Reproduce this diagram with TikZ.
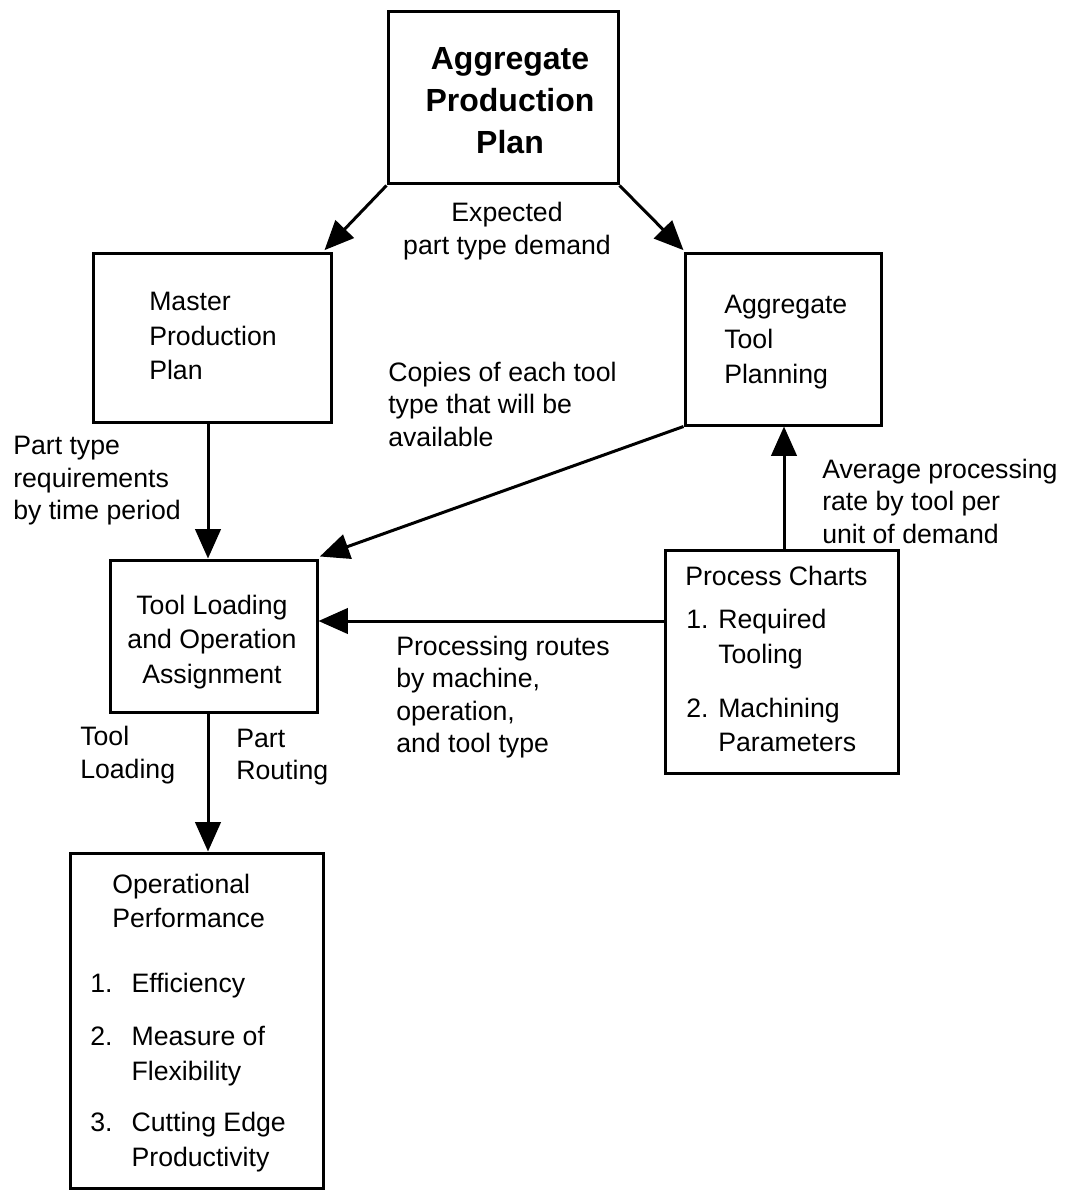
\documentclass[tikz,border=0pt]{standalone}
\usepackage{fontspec}
\setmainfont{Liberation Sans}
\usetikzlibrary{arrows.meta,fit,positioning}
\newcommand{\itemno}[1]{\makebox[31pt][l]{#1}}
\newcommand{\itemgap}{\hphantom{\itemno{1.}}}
\begin{document}
\begin{tikzpicture}[x=0.75pt,y=-0.75pt,
  box/.style={draw,line width=2.25pt,inner sep=0pt,fill=none},
  flow/.style={line width=2.25pt,-{Triangle[length=22pt,width=19pt]}},
  txt/.style={inner sep=0pt,align=left,anchor=west,font=\fontsize{20}{24.4}\selectfont},
  btxt/.style={inner sep=0pt,align=left,anchor=west,font=\fontsize{20}{26}\selectfont},
  ctxt/.style={inner sep=0pt,align=center,font=\fontsize{20}{24.4}\selectfont},
  cbtxt/.style={inner sep=0pt,align=center,font=\fontsize{20}{26}\selectfont},
  title/.style={inner sep=0pt,align=center,font=\bfseries\fontsize{24}{31.5}\selectfont}]
  \useasboundingbox (0,0) rectangle (1070,1191);

  % boxes
  \node[box,fit={(388,12) (618,184)}] (app) {};
  \node[box,fit={(93,253) (331,422)}] (mpp) {};
  \node[box,fit={(685,253) (881,425)}] (atp) {};
  \node[box,fit={(110,560) (317,712)}] (tloa) {};
  \node[box,fit={(665,550) (898,773)}] (pc) {};
  \node[box,fit={(70,853) (323,1188)}] (op) {};

  % box texts
  \node[title] (appT) at (510,101) {Aggregate\\Production\\Plan};
  \node[btxt] (mppT) at (149,336) {Master\\Production\\Plan};
  \node[btxt] (atpT) at (724,342) {Aggregate\\Tool\\Planning};
  \node[cbtxt] (tloaT) at (212,642) {Tool Loading\\and Operation\\Assignment};

  \node[btxt] (pcT) at (685,576) {Process Charts};
  \node[btxt] (pcI1) at (686,639) {\makebox[24pt][l]{1.}Required\\\hphantom{\makebox[24pt][l]{1.}}Tooling};
  \node[btxt] (pcI2) at (686,725) {\makebox[24pt][l]{2.}Machining\\\hphantom{\makebox[24pt][l]{2.}}Parameters};

  \node[btxt] (opT) at (112,901) {Operational\\Performance};
  \node[btxt] (opI1) at (90,986) {\itemno{1.}Efficiency};
  \node[btxt] (opI2) at (90,1056) {\itemno{2.}Measure of\\\itemgap Flexibility};
  \node[btxt] (opI3) at (90,1142) {\itemno{3.}Cutting Edge\\\itemgap Productivity};

  % connector labels
  \node[ctxt] (lExp) at (507,231) {Expected\\part type demand};
  \node[txt] (lCop) at (388,404) {Copies of each tool\\type that will be\\available};
  \node[txt] (lReq) at (13,481) {Part type\\requirements\\by time period};
  \node[txt] (lAvg) at (822,501) {Average processing\\rate by tool per\\unit of demand};
  \node[txt] (lRou) at (396,697) {Processing routes\\by machine,\\operation,\\and tool type};
  \node[txt] (lTL) at (80,755) {Tool\\Loading};
  \node[txt] (lPR) at (236,757) {Part\\Routing};

  % connectors
  \draw[flow] (app.south west) -- ([xshift=-6pt,yshift=1pt]mpp.north east);
  \draw[flow] (app.south east) -- ([yshift=1pt]atp.north west);
  \draw[flow] (mpp.south -| 208,0) -- (tloa.north -| 208,0);
  \draw[flow] (atp.south west) -- ([xshift=1pt,yshift=1.5pt]tloa.north east);
  \draw[flow] (pc.north -| 784,0) -- (atp.south -| 784,0);
  \draw[flow] (pc.west |- 0,621) -- (tloa.east |- 0,621);
  \draw[flow] (tloa.south -| 208,0) -- (op.north -| 208,0);
\end{tikzpicture}
\end{document}
